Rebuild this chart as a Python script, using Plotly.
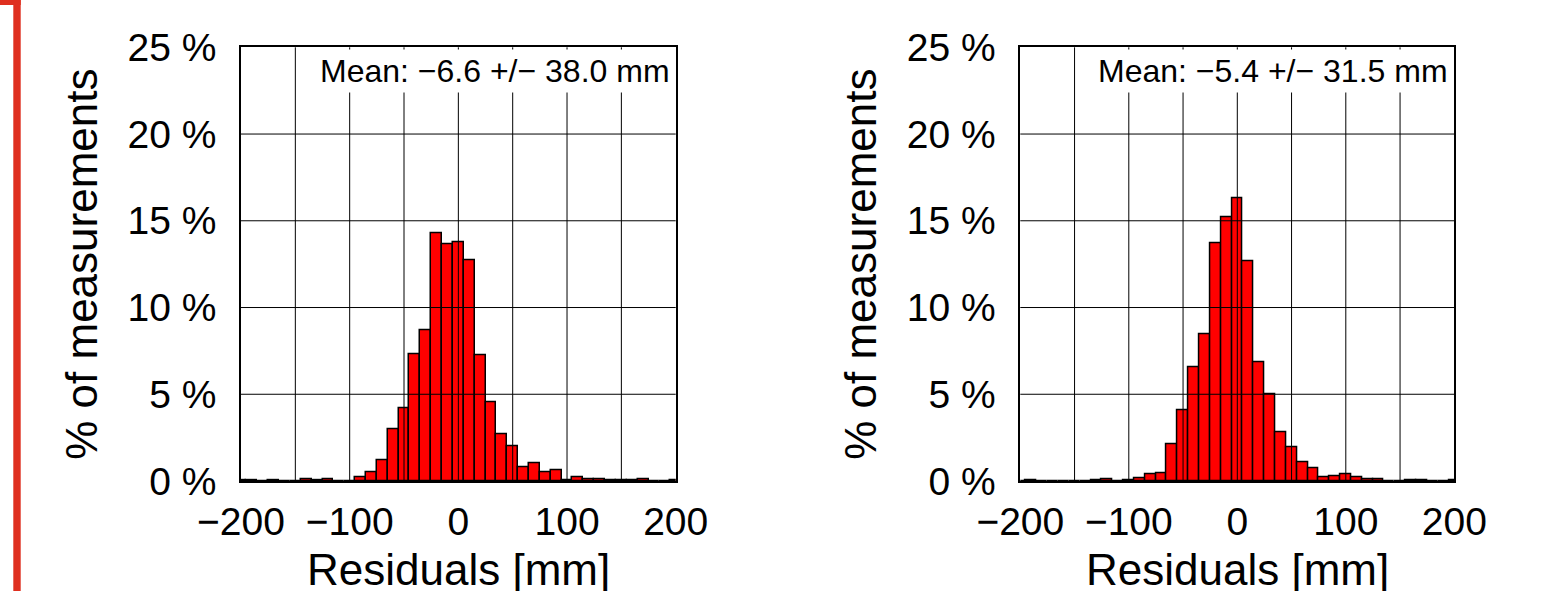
import plotly.graph_objects as go

# ---------------- data ----------------
bin_centers = list(range(-200, 201, 10))          # mm, bin width 10 mm
bin_width = 10

left_pct = [0.03, 0.05, 0.0, 0.05, 0.0, 0.0, 0.08, 0.03, 0.08, 0.0,
            0.0, 0.2, 0.5, 1.17, 3.0, 4.17, 7.3, 8.68, 14.3, 13.63,
            13.75, 12.75, 7.24, 4.51, 2.69, 2.02, 0.8, 1.0, 0.48, 0.6,
            0.05, 0.2, 0.1, 0.1, 0.05, 0.05, 0.05, 0.12, 0.0, 0.0,
            0.05]
right_pct = [0.0, 0.05, 0.0, 0.0, 0.0, 0.0, 0.0, 0.05, 0.1, 0.0,
             0.05, 0.18, 0.4, 0.46, 2.13, 4.07, 6.57, 8.47, 13.69, 15.22,
             16.28, 12.69, 6.84, 5.01, 2.78, 1.92, 1.06, 0.72, 0.19, 0.29,
             0.36, 0.19, 0.1, 0.1, 0.0, 0.0, 0.05, 0.05, 0.0, 0.0,
             0.05]
mean_texts = ["Mean: \u22126.6 +/\u2212 38.0 mm", "Mean: \u22125.4 +/\u2212 31.5 mm"]

x_tickvals = [-200, -100, 0, 100, 200]
x_ticktext = ["\u2212200", "\u2212100", "0", "100", "200"]
y_tickvals = [0, 5, 10, 15, 20, 25]
y_ticktext = ["0 %", "5 %", "10 %", "15 %", "20 %", "25 %"]
x_grid = [-150, -100, -50, 0, 50, 100, 150]
y_grid = [5, 10, 15, 20]
x_range = [-200, 200]
y_range = [0, 25]
x_title = "Residuals [mm]"
y_title = "% of measurements"

# ---------------- figure ----------------
W, H = 1557, 591
FONT = "Liberation Sans, Arial, sans-serif"

fig = go.Figure()
panels = [
    dict(vals=left_pct, xa="x", ya="y", xdom=[241 / W, 675.7 / W]),
    dict(vals=right_pct, xa="x2", ya="y2", xdom=[1020.3 / W, 1454.3 / W]),
]
ydom = [(H - 481) / H, (H - 47.3) / H]

shapes = []
annotations = []
for i, p in enumerate(panels):
    fig.add_trace(go.Bar(
        x=bin_centers, y=p["vals"], width=bin_width,
        marker=dict(color="#ff0000", line=dict(color="black", width=1.5)),
        xaxis=p["xa"], yaxis=p["ya"], showlegend=False,
    ))
    axis_common = dict(
        showline=True, mirror=True, linecolor="black", linewidth=1.5,
        showgrid=False, zeroline=False, ticks="", automargin=False,
        tickfont=dict(family=FONT, size=39, color="black"),
        title_font=dict(family=FONT, size=44, color="black"),
    )
    suffix = "" if i == 0 else str(i + 1)
    fig.layout["xaxis" + suffix] = dict(
        axis_common, domain=p["xdom"], range=x_range, anchor=p["ya"],
        tickmode="array", tickvals=x_tickvals, ticktext=x_ticktext,
        ticklabelstandoff=5,
    )
    fig.layout["yaxis" + suffix] = dict(
        axis_common, domain=ydom, range=y_range, anchor=p["xa"],
        tickmode="array", tickvals=y_tickvals, ticktext=y_ticktext,
        ticklabelstandoff=15,
        title=dict(text=y_title, standoff=16),
    )
    xref_d = p["xa"] + " domain"
    yref_d = p["ya"] + " domain"
    for gx in x_grid:
        shapes.append(dict(type="line", xref=p["xa"], yref=yref_d,
                           x0=gx, x1=gx, y0=0, y1=1, layer="above",
                           line=dict(color="black", width=1)))
    for gy in y_grid:
        shapes.append(dict(type="line", xref=xref_d, yref=p["ya"],
                           x0=0, x1=1, y0=gy, y1=gy, layer="above",
                           line=dict(color="black", width=1)))
    annotations.append(dict(
        text=mean_texts[i], xref=xref_d, yref=yref_d, x=1, y=1,
        xanchor="right", yanchor="top", showarrow=False,
        xshift=-2, yshift=-2, bgcolor="white", borderpad=3,
        font=dict(family=FONT, size=32, color="black"),
    ))
    # x-axis title (placed partly below the page edge, as in the original)
    annotations.append(dict(
        text=x_title, xref=xref_d, yref="paper", x=0.5, y=(H - 543) / H,
        xanchor="center", yanchor="top", showarrow=False,
        font=dict(family=FONT, size=44, color="black"),
    ))

# red bracket at the left edge
shapes.append(dict(type="rect", xref="paper", yref="paper",
                   x0=13.3 / W, x1=20.7 / W, y0=0, y1=1,
                   fillcolor="#df2f1f", line=dict(width=0), layer="above"))
shapes.append(dict(type="rect", xref="paper", yref="paper",
                   x0=0, x1=20.7 / W, y0=1 - 5 / H, y1=1,
                   fillcolor="#df2f1f", line=dict(width=0), layer="above"))

fig.update_layout(
    width=W, height=H, autosize=False,
    margin=dict(l=0, r=0, t=0, b=0, pad=0, autoexpand=False),
    paper_bgcolor="white", plot_bgcolor="white",
    bargap=0, shapes=shapes, annotations=annotations,
    font=dict(family=FONT, color="black"),
)

fig.write_html("out.html")
